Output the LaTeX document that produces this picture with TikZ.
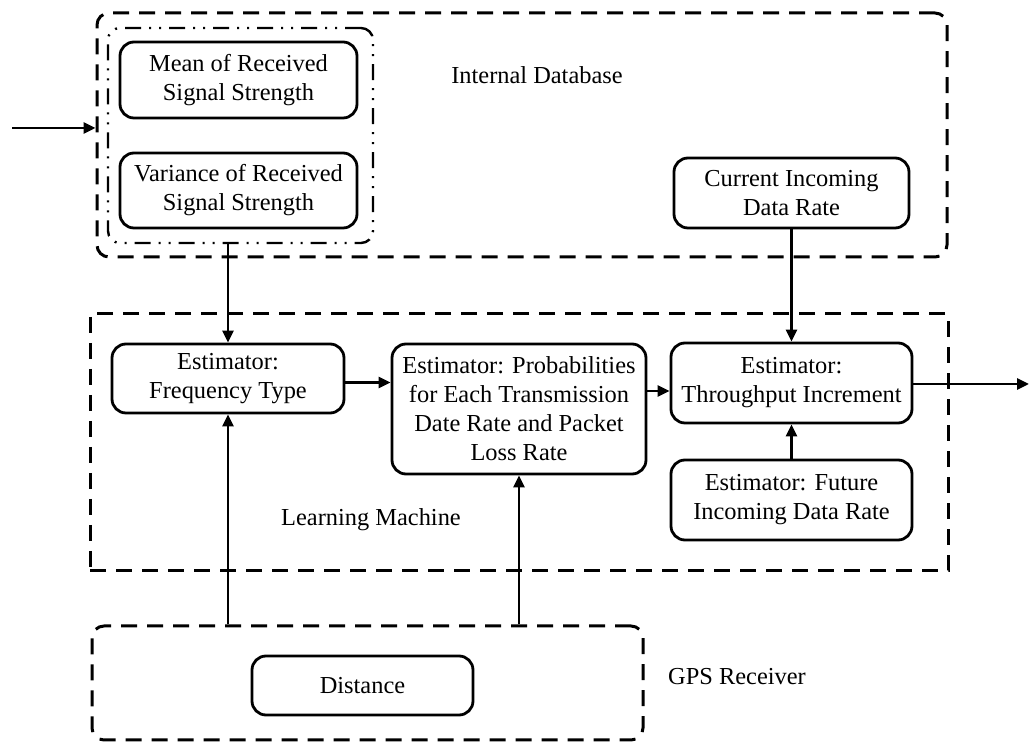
\documentclass[tikz,border=0pt]{standalone}
\usepackage{fontspec}
\setmainfont{Liberation Serif}
\usetikzlibrary{arrows.meta}
\tikzset{
  blk/.style={draw, line width=1.4pt, rounded corners=7pt, align=center, inner sep=0pt,
    font=\fontsize{12.2}{14.5}\selectfont},
  cont/.style={draw, line width=1.5pt, dash pattern=on 8pt off 5pt, inner sep=0pt},
  ddcont/.style={draw, line width=1.2pt, dash pattern=on 8pt off 4pt on 1pt off 4pt on 1pt off 4pt, inner sep=0pt, rounded corners=6pt},
  lbl/.style={font=\fontsize{12.2}{14.5}\selectfont, inner sep=0pt},
  arr/.style={line width=1.4pt, -{Triangle[length=6pt,width=5.5pt]}},
}
\begin{document}
\begin{tikzpicture}[x=0.5pt,y=-0.5pt]
\useasboundingbox (0,0) rectangle (1030,742);
% containers
\node[cont, rounded corners=6pt, minimum width=425pt, minimum height=122pt] (idb) at (522,135) {};
\node[ddcont, minimum width=132.5pt, minimum height=107.5pt] (dd) at (240.5,135.5) {};
\node[cont, minimum width=429pt, minimum height=128.5pt] (lm) at (519,442.5) {};
\node[cont, rounded corners=6pt, minimum width=275.5pt, minimum height=57pt] (gps) at (367.5,683) {};
% labels
\node[lbl] (idblbl) at (537,75) {Internal Database};
\node[lbl] (lmlbl) at (371,520) {Learning Machine};
\node[lbl] (gpslbl) at (737,677) {GPS Receiver};
% blocks
\node[blk, minimum width=118.5pt, minimum height=38pt] (mean) at (238.5,80) {Mean of Received\\Signal Strength};
\node[blk, minimum width=118.5pt, minimum height=37.5pt] (var) at (238.5,190.5) {Variance of Received\\Signal Strength};
\node[blk, minimum width=117.5pt, minimum height=35pt] (cur) at (791.5,193) {Current Incoming\\Data Rate};
\node[blk, minimum width=116pt, minimum height=34.5pt] (freq) at (228,378.5) {Estimator:\\Frequency Type};
\node[blk, minimum width=127pt, minimum height=65pt] (prob) at (519,409) {Estimator: Probabilities\\for Each Transmission\\Date Rate and Packet\\Loss Rate};
\node[blk, minimum width=120.5pt, minimum height=40pt] (thr) at (791.5,383) {Estimator:\\Throughput Increment};
\node[blk, minimum width=120.5pt, minimum height=40pt] (fut) at (791.5,500) {Estimator: Future\\Incoming Data Rate};
\node[blk, minimum width=110.5pt, minimum height=29.5pt] (dist) at (362.5,685.5) {Distance};
% free ends
\coordinate (in) at (12,128);
\coordinate (out) at (1029,384);
% connectors
\draw[arr] (in) -- (in -| idb.west);
\draw[arr] (freq.north |- dd.south) -- (freq.north);
\draw[arr] ([yshift=-2pt]freq.east) -- ([yshift=-2pt]freq.east -| prob.west);
\draw[arr] ([yshift=9pt]prob.east) -- ([yshift=9pt]prob.east -| thr.west);
\draw[arr] (cur.south) -- (thr.north);
\draw[arr] (fut.north) -- (thr.south);
\draw[arr] (thr.east |- out) -- (out);
\draw[arr] (freq.south |- gps.north) -- (freq.south);
\draw[arr] (prob.south |- gps.north) -- (prob.south);
\end{tikzpicture}
\end{document}
